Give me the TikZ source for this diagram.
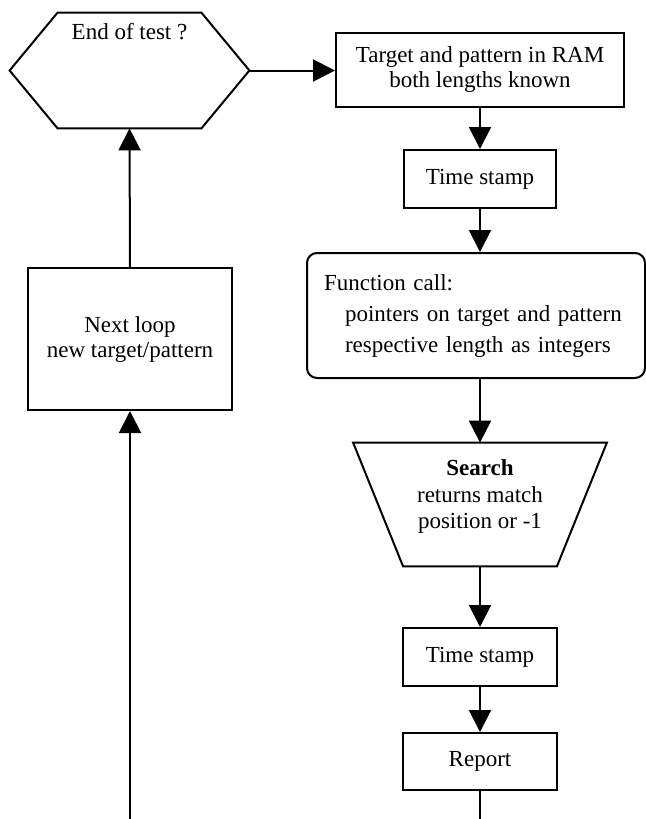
\documentclass[tikz,border=0pt]{standalone}
\usepackage{fontspec}
\setmainfont{Liberation Serif}
\usepackage{tikz}
\usetikzlibrary{
  arrows.meta,
}

\begin{document}
\begin{tikzpicture}[x=0.5pt, y=-0.5pt,
    font=\fontsize{11.5}{12.5}\selectfont,
    box/.style={draw, line width=1pt, align=center, inner sep=0pt},
    flow/.style={line width=1pt, -{Triangle[length=11pt, width=11pt]}},
  ]
  \useasboundingbox (0,0) rectangle (645,819);

  % left column: loop test and next loop
  \node[inner sep=0pt, minimum width=119.5pt, minimum height=57.5pt,
        label={[anchor=north, yshift=-2pt]north:End of test ?}]
        (endtest) at (129.5,70.5) {};
  \draw[line width=1pt] (endtest.west) -- ([xshift=24pt]endtest.north west)
    -- ([xshift=-24pt]endtest.north east) -- (endtest.east)
    -- ([xshift=-24pt]endtest.south east) -- ([xshift=24pt]endtest.south west)
    -- cycle;
  \node[box, minimum width=102pt, minimum height=71pt]
        (next) at (130,339) {Next loop\\new target/pattern};
  \coordinate (loopin) at (130,819);

  % right column: one timed search
  \node[box, minimum width=144pt, minimum height=37pt]
        (ram) at (480,70) {Target and pattern in RAM\\both lengths known};
  \node[box, minimum width=76pt, minimum height=29pt]
        (stamp1) at (480,179) {Time stamp};
  \node[box, rounded corners=5pt, align=left, text width=152pt, inner xsep=8.5pt,
        minimum height=62.5pt, font=\fontsize{11.5}{15.5}\selectfont]
        (call) at (476,315.5) {Function call:\\
          \hspace*{10.5pt}pointers on target and pattern\\
          \hspace*{10.5pt}respective length as integers};
  \node[inner sep=0pt, minimum width=126.5pt, minimum height=61.5pt]
        (search) at (480,504.5) {};
  \draw[line width=1pt] (search.north west) -- (search.north east)
    -- ([xshift=-25pt]search.south east) -- ([xshift=25pt]search.south west)
    -- cycle;
  \node[align=center, inner sep=0pt, font=\fontsize{11.5}{13.25}\selectfont]
        (searchtext) at ([yshift=4pt]search.center)
        {\textbf{Search}\\returns match\\position or -1};
  \node[box, minimum width=77pt, minimum height=29pt]
        (stamp2) at (480,657) {Time stamp};
  \node[box, minimum width=77pt, minimum height=28.5pt]
        (report) at (480,761.5) {Report};
  \coordinate (reportout) at (480,819);

  % connectors
  \draw[flow] (endtest.east) -- (endtest.east -| ram.west);
  \draw[flow] (ram.south) -- (stamp1.north);
  \draw[flow] (stamp1.south) -- (stamp1.south |- call.north);
  \draw[flow] (call.south -| search.north) -- (search.north);
  \draw[flow] (search.south) -- (stamp2.north);
  \draw[flow] (stamp2.south) -- (report.north);
  \draw[line width=1pt] (report.south) -- (reportout);
  \draw[flow] (loopin) -- (next.south);
  \draw[flow] (next.north) -- (endtest.south);
\end{tikzpicture}
\end{document}
